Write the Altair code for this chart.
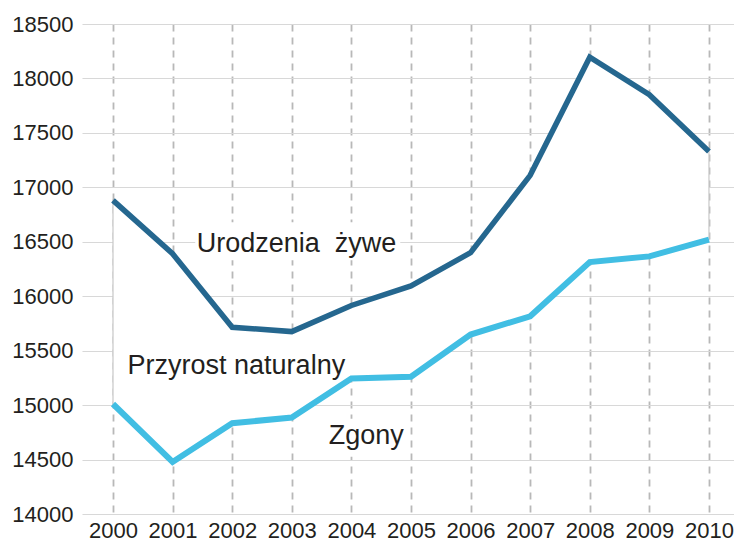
import altair as alt
import pandas as pd

# ---- data ----
years = list(range(2000, 2011))
urodzenia = [16880, 16390, 15715, 15675, 15915, 16095, 16400, 17110, 18195, 17850, 17330]
zgony = [15010, 14478, 14834, 14886, 15245, 15260, 15648, 15816, 16314, 16366, 16520]

y_ticks = [14000, 14500, 15000, 15500, 16000, 16500, 17000, 17500, 18000, 18500]

label_text = ["Urodzenia\u00a0 żywe", "Przyrost naturalny", "Zgony"]
label_year = [2003.08, 2002.07, 2004.25]
label_value = [16406, 15288, 14644]

# white boxes behind the two labels outside the shaded band
box_year1 = [2001.38, 2003.47]
box_year2 = [2004.82, 2004.95]
box_value1 = [16330, 14525]
box_value2 = [16680, 14875]

DARK = "#25678f"
LIGHT = "#41bee3"
TEXT = "#231f20"
FONT = "Liberation Sans"

df = pd.DataFrame({"rok": years, "urodzenia": urodzenia, "zgony": zgony})
labels = pd.DataFrame({"t": label_text, "x": label_year, "y": label_value})
boxes = pd.DataFrame({"x": box_year1, "x2": box_year2, "y": box_value1, "y2": box_value2})

xs = alt.Scale(domain=[1999.48, 2010.42], nice=False, zero=False)
ys = alt.Scale(domain=[14000, 18500], nice=False, zero=False)

x_axis = alt.Axis(values=years, format="d", title=None, grid=True, gridDash=[7, 6],
                  gridColor="#b8b8b8", gridWidth=1.8, ticks=False, domain=False,
                  labelFontSize=22, labelFont=FONT, labelColor=TEXT, labelPadding=6)
y_axis = alt.Axis(values=y_ticks, format="d", title=None, grid=True, gridColor="#d8d8d8",
                  gridWidth=1.2, ticks=False, domain=False, labelFontSize=22, labelFont=FONT,
                  labelColor=TEXT, labelPadding=9)


def X(field):
    return alt.X(field, scale=xs, axis=x_axis)


def Y(field):
    return alt.Y(field, scale=ys, axis=y_axis)


band = alt.Chart(df).mark_area(fill="white", stroke="#c8c8c8", strokeWidth=1.2).encode(
    x=X("rok:Q"), y=Y("urodzenia:Q"), y2="zgony:Q",
)

box_layer = alt.Chart(boxes).mark_rect(fill="white").encode(
    x=X("x:Q"), x2="x2:Q", y=Y("y:Q"), y2="y2:Q",
)

line_u = alt.Chart(df).mark_line(color=DARK, strokeWidth=5.5).encode(
    x=X("rok:Q"), y=Y("urodzenia:Q"),
)
line_z = alt.Chart(df).mark_line(color=LIGHT, strokeWidth=6).encode(
    x=X("rok:Q"), y=Y("zgony:Q"),
)

text = alt.Chart(labels).mark_text(align="center", baseline="alphabetic", fontSize=27,
                                   font=FONT, color=TEXT).encode(
    x=X("x:Q"), y=Y("y:Q"), text="t:N",
)

chart = alt.layer(band, box_layer, line_u, line_z, text).properties(
    width=652, height=490,
    background="white",
    autosize=alt.AutoSizeParams(type="none"),
    padding={"left": 74, "top": 16, "right": 0, "bottom": 28},
).configure_view(stroke=None)

chart.save("out.html", embed_options={"renderer": "svg", "actions": False})
